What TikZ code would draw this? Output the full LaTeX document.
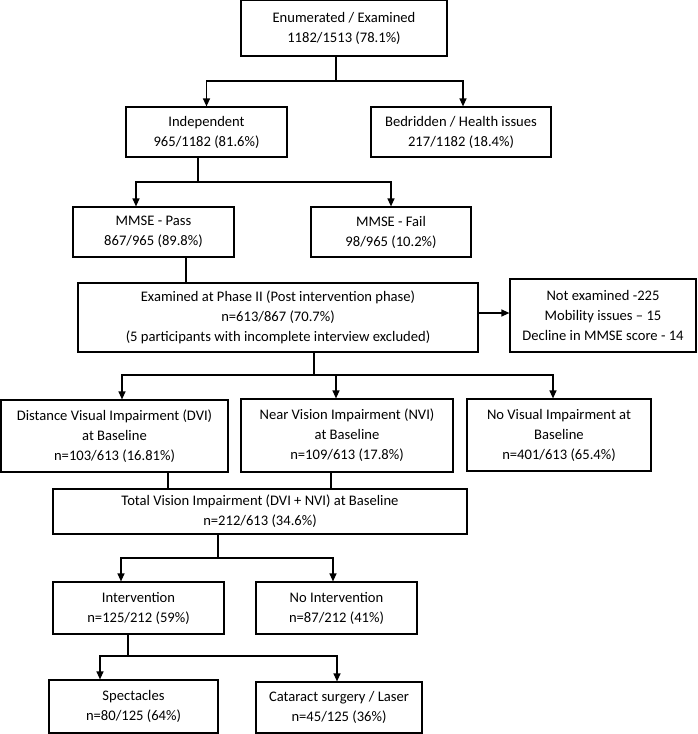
\documentclass[tikz,border=0pt]{standalone}
\usepackage{fontspec}
\setmainfont{Carlito}
\usetikzlibrary{arrows.meta,positioning,calc}

\begin{document}
\begin{tikzpicture}[
    x=1pt, y=-1pt,
    box/.style={draw, line width=1.2pt, inner sep=0pt, align=center, font=\fontsize{14.6}{20}\selectfont},
    line/.style={line width=1.2pt},
    arrow/.style={line width=1.2pt, -{Triangle[length=8pt,width=7pt]}}
]
    \useasboundingbox (0,0) rectangle (698,734);

    % Screening
    \node[box, minimum width=206, minimum height=56] (enum) at (344, 28) {Enumerated / Examined\\1182/1513 (78.1\%)};
    \node[box, minimum width=161, minimum height=50] (indep) at (206.5, 132) {Independent\\965/1182 (81.6\%)};
    \node[box, minimum width=180, minimum height=50] (bed) at (461, 132) {Bedridden / Health issues\\217/1182 (18.4\%)};
    \node[box, minimum width=161, minimum height=50] (pass) at (153.5, 232) {MMSE - Pass\\867/965 (89.8\%)};
    \node[box, minimum width=160, minimum height=50] (fail) at (391, 232) {MMSE - Fail\\98/965 (10.2\%)};

    % Phase II
    \node[box, minimum width=400, minimum height=69] (exam) at (278, 317.5) {Examined at Phase II (Post intervention phase)\\n=613/867 (70.7\%)\\(5 participants with incomplete interview excluded)};
    \node[box, minimum width=186, minimum height=73] (notex) at (603, 315.5) {Not examined -225\\Mobility issues -- 15\\Decline in MMSE score - 14};

    % Vision at baseline
    \node[box, minimum width=227, minimum height=72] (dvi) at (114.5, 436) {Distance Visual Impairment (DVI)\\at Baseline\\n=103/613 (16.81\%)};
    \node[box, minimum width=212, minimum height=73] (nvi) at (347, 435.5) {Near Vision Impairment (NVI)\\at Baseline\\n=109/613 (17.8\%)};
    \node[box, minimum width=184, minimum height=72] (novi) at (559, 435) {No Visual Impairment at\\Baseline\\n=401/613 (65.4\%)};
    \node[box, minimum width=414, minimum height=45] (total) at (260, 511.5) {Total Vision Impairment (DVI + NVI) at Baseline\\n=212/613 (34.6\%)};

    % Intervention
    \node[box, minimum width=171, minimum height=52] (interv) at (138.5, 608) {Intervention\\n=125/212 (59\%)};
    \node[box, minimum width=161, minimum height=52] (nointerv) at (336.5, 608) {No Intervention\\n=87/212 (41\%)};
    \node[box, minimum width=169, minimum height=53] (spect) at (133.5, 706.5) {Spectacles\\n=80/125 (64\%)};
    \node[box, minimum width=166, minimum height=51] (cat) at (339, 707.5) {Cataract surgery / Laser\\n=45/125 (36\%)};

    % Branch points
    \coordinate (j1) at (336, 81);
    \coordinate (j2) at (198, 182);
    \coordinate (j3) at (314, 375);
    \coordinate (j4) at (218, 558);
    \coordinate (j5) at (128, 656);

    % Connectors
    \draw[line] (enum.south -| j1) -- (j1);
    \draw[arrow] (j1) -| (indep.north);
    \draw[arrow] (j1) -| ([xshift=2]bed.north);

    \draw[line] (indep.south -| j2) -- (j2);
    \draw[arrow] (j2) -| ([xshift=-17.5]pass.north);
    \draw[arrow] (j2) -| (fail.north);

    \draw[line] ([xshift=32.5]pass.south) -- ([xshift=32.5]pass.south |- exam.north);
    \draw[arrow] ([yshift=4.5]exam.east) -- ([yshift=4.5]exam.east -| notex.west);

    \draw[line] (exam.south -| j3) -- (j3);
    \draw[arrow] (j3) -| ([xshift=7.5]dvi.north);
    \draw[arrow] (j3) -| ([xshift=-11]nvi.north);
    \draw[arrow] (j3) -| ([xshift=-6]novi.north);

    \draw[line] ([xshift=53.5]dvi.south) -- ([xshift=53.5]dvi.south |- total.north);
    \draw[line] ([xshift=-16]nvi.south) -- ([xshift=-16]nvi.south |- total.north);

    \draw[line] (total.south -| j4) -- (j4);
    \draw[arrow] (j4) -| ([xshift=-17.5]interv.north);
    \draw[arrow] (j4) -| ([xshift=-3.5]nointerv.north);

    \draw[line] (interv.south -| j5) -- (j5);
    \draw[arrow] (j5) -| ([xshift=-33.5]spect.north);
    \draw[arrow] (j5) -| ([xshift=-2]cat.north);
\end{tikzpicture}
\end{document}
